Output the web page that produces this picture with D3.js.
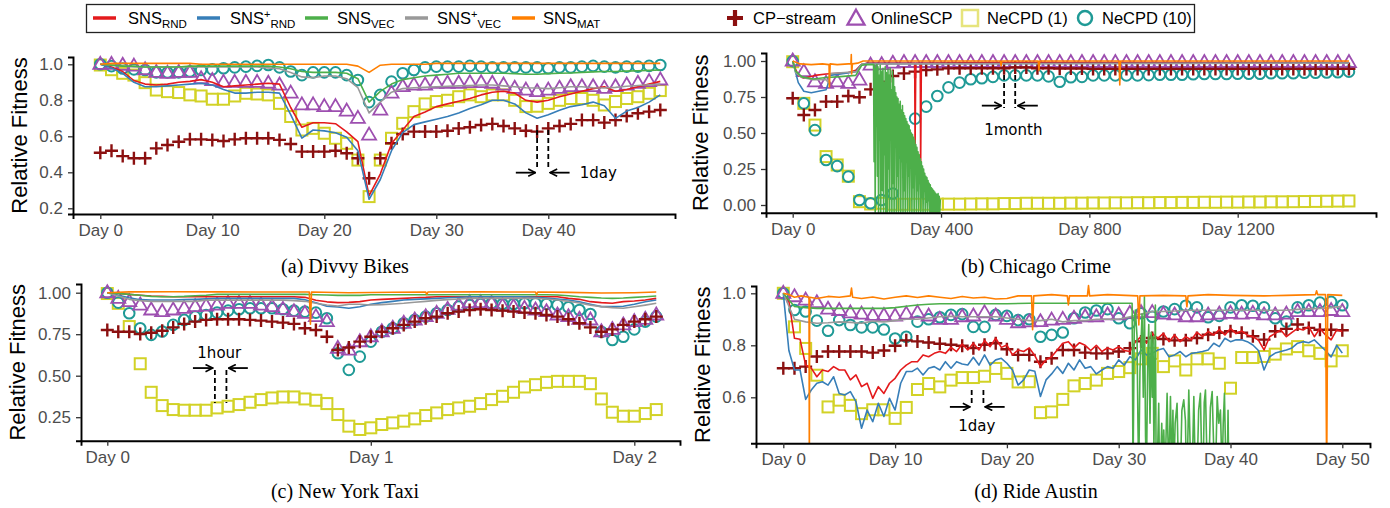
<!DOCTYPE html>
<html lang="en">
<head>
<meta charset="utf-8">
<style>
  body { margin: 0; background: #fff; }
  svg { display: block; }
</style>
</head>
<body>
<script src="https://cdn.jsdelivr.net/npm/d3@7"></script>
<script>

// ---------- (a) Divvy Bikes : daily values, day 0..50 ----------
var divvyDays = d3.range(0, 51);
var divvyRnd = [1.00,0.985,0.96,0.91,0.89,0.885,0.89,0.90,0.905,0.915,
  0.90,0.875,0.88,0.885,0.89,0.895,0.89,0.76,0.65,0.675,
  0.675,0.67,0.625,0.57,0.27,0.39,0.56,0.635,0.71,0.735,
  0.765,0.78,0.795,0.81,0.83,0.845,0.85,0.84,0.80,0.79,
  0.80,0.82,0.835,0.85,0.865,0.875,0.85,0.86,0.875,0.89,0.905];
var divvyRndPlus = [1.00,0.98,0.95,0.90,0.875,0.875,0.88,0.885,0.89,0.895,
  0.885,0.86,0.84,0.84,0.845,0.845,0.84,0.72,0.59,0.635,
  0.63,0.62,0.595,0.52,0.25,0.36,0.52,0.62,0.665,0.68,
  0.695,0.71,0.73,0.755,0.775,0.80,0.80,0.78,0.73,0.70,
  0.72,0.745,0.765,0.775,0.79,0.77,0.70,0.74,0.76,0.79,0.83];
var divvyVec = [1.00,0.995,0.99,0.99,0.985,0.985,0.985,0.985,0.99,0.99,
  0.99,0.99,0.99,0.99,0.99,0.99,0.985,0.975,0.96,0.955,
  0.955,0.955,0.95,0.92,0.79,0.85,0.89,0.915,0.925,0.935,
  0.94,0.945,0.95,0.95,0.95,0.95,0.95,0.948,0.945,0.945,
  0.948,0.95,0.952,0.955,0.958,0.96,0.96,0.962,0.964,0.966,0.968];
var divvyVecPlus = [1.00,0.995,0.99,0.985,0.985,0.985,0.985,0.985,0.985,0.985,
  0.985,0.985,0.985,0.985,0.985,0.98,0.975,0.955,0.93,0.925,
  0.935,0.935,0.92,0.87,0.73,0.79,0.845,0.865,0.87,0.872,
  0.875,0.878,0.88,0.882,0.885,0.885,0.88,0.875,0.87,0.868,
  0.865,0.87,0.875,0.875,0.87,0.868,0.872,0.878,0.882,0.886,0.89];
var divvyMat = [1.00,1.005,1.005,1.005,1.005,1.005,1.005,1.005,1.005,1.0,
  1.0,1.0,1.0,1.0,1.0,1.0,1.0,1.0,1.0,1.0,
  1.0,1.0,1.0,0.99,0.955,0.995,1.0,1.0,1.0,1.0,
  1.005,1.005,1.005,1.005,1.005,1.005,1.005,1.005,1.005,1.005,
  1.005,1.005,1.005,1.005,1.005,1.005,1.005,1.005,1.005,1.005,1.005];
var divvyCp = [0.509,0.52,0.49,0.478,0.478,0.533,0.552,0.57,0.583,0.583,
  0.58,0.574,0.583,0.589,0.589,0.589,0.58,0.557,0.515,0.515,
  0.515,0.52,0.506,0.478,0.367,0.478,0.561,0.613,0.626,0.626,
  0.626,0.631,0.644,0.65,0.663,0.669,0.657,0.644,0.631,0.626,
  0.644,0.657,0.669,0.69,0.69,0.676,0.69,0.713,0.728,0.737,0.746];
var divvyOnline = [1.0,1.0,0.995,0.99,0.97,0.955,0.95,0.955,0.955,0.92,
  0.91,0.90,0.90,0.90,0.90,0.895,0.885,0.84,0.775,0.775,
  0.765,0.765,0.74,0.70,0.607,0.746,0.84,0.876,0.885,0.885,
  0.895,0.895,0.895,0.898,0.898,0.895,0.885,0.867,0.857,0.848,
  0.857,0.867,0.876,0.876,0.876,0.867,0.876,0.885,0.895,0.904,0.913];
var divvyNe1 = [0.996,0.97,0.95,0.94,0.898,0.857,0.848,0.843,0.83,0.824,
  0.806,0.806,0.824,0.839,0.835,0.83,0.783,0.71,0.635,0.644,
  0.617,0.589,0.561,0.468,0.265,0.468,0.589,0.672,0.737,0.78,
  0.793,0.80,0.82,0.83,0.82,0.83,0.83,0.80,0.765,0.767,
  0.783,0.80,0.81,0.81,0.80,0.774,0.793,0.81,0.82,0.839,0.854];
var divvyNe10 = [1.0,0.99,0.977,0.972,0.968,0.955,0.955,0.955,0.96,0.968,
  0.972,0.978,0.983,0.987,0.991,0.996,0.983,0.96,0.94,0.955,
  0.955,0.955,0.94,0.913,0.79,0.83,0.904,0.95,0.968,0.983,
  0.987,0.987,0.987,0.991,0.987,0.983,0.983,0.983,0.983,0.983,
  0.978,0.983,0.983,0.987,0.991,0.987,0.983,0.987,0.987,0.991,0.996];

// ---------- (b) Chicago Crime : lines as [day, value], markers every 30 days ----------
var chicagoRnd = [[0,1.0],[5,0.96],[15,0.9],[30,0.88],[60,0.9],[90,0.91],[120,0.915],[150,0.92],
  [170,0.935],[185,0.975],[200,0.985],[329,0.985],[330,0.40],[332,0.985],[344,0.985],[345,0.25],
  [347,0.985],[600,0.99],[1500,0.99]];
var chicagoRndPlus = [[0,1.0],[5,0.95],[15,0.85],[30,0.79],[50,0.78],[70,0.79],[90,0.80],[96,0.845],
  [100,0.90],[130,0.91],[170,0.925],[185,0.975],[200,0.982],[1500,0.985]];
var chicagoVecPlus = [[0,1.0],[8,0.92],[25,0.885],[55,0.87],[90,0.87],[96,0.85],[100,0.912],[140,0.92],
  [172,0.926],[186,0.978],[300,0.98],[1500,0.985]];
var chicagoVec = [[0,1.0],[8,0.93],[25,0.89],[55,0.875],[90,0.885],[120,0.89],[170,0.90],[186,0.97],
  [200,0.975],[218,0.975],[219.5,0.3],[221,0.97],[222.5,-0.06],[224,0.95],[225.5,0.55],[227,0.975],
  [228.5,0.2],[230,0.96],[231.5,-0.06],[233,0.9],[234.5,0.45],[236,0.97],[237.5,-0.06],[239,0.7],
  [240.5,0.93],[242,0.1],[243.5,0.95],[245,-0.06],[246.5,0.85],[248,0.35],[249.5,0.96],[251,-0.06],
  [252.5,0.92],[254,0.6],[255.5,-0.06],[257,0.94],[258.5,0.25],[260,0.9],[261.5,-0.06],[263,0.95],
  [264.5,0.5],[266,0.8],[267.5,-0.06],[269,0.93],[270.5,0.15],[272,0.88],[273.5,-0.06],[275,0.82],
  [276.5,0.4],[278,0.78],[279.5,-0.06],[281,0.75],[282.5,0.2],[284,0.74],[285.5,-0.06],[287,0.7],
  [288.5,0.45],[290,0.72],[291.5,-0.06],[293,0.66],[294.5,0.3],[296,0.69],[297.5,-0.06],[299,0.64],
  [300.5,0.1],[302,0.62],[303.5,-0.06],[305,0.6],[306.5,0.35],[308,0.58],[309.5,-0.06],[311,0.56],
  [312.5,0.2],[314,0.55],[315.5,-0.06],[317,0.52],[318.5,0.3],[320,0.5],[321.5,-0.06],[323,0.49],
  [324.5,0.12],[326,0.47],[327.5,-0.06],[329,0.45],[330.5,0.25],[332,0.42],[333.5,-0.06],[335,0.4],
  [336.5,0.1],[338,0.37],[339.5,-0.06],[341,0.35],[342.5,0.15],[344,0.32],[345.5,-0.06],[347,0.3],
  [348.5,0.05],[350,0.27],[351.5,-0.06],[353,0.25],[354.5,0.1],[356,0.22],[357.5,-0.06],[359,0.2],
  [360.5,0.02],[362,0.19],[363.5,-0.06],[365,0.17],[366.5,0.03],[368,0.15],[369.5,-0.06],[371,0.14],
  [372.5,-0.06],[374,0.12],[375.5,-0.06],[377,0.11],[378.5,-0.06],[380,0.1],[381.5,-0.06],[383,0.09],
  [384.5,-0.06],[386,0.08],[387.5,-0.06],[389,0.07],[390.5,-0.06],[392,0.08],[393.5,-0.06],[395,0.06],
  [396.5,-0.06],[398,0.04]];
var chicagoMat = [[0,1.0],[10,0.99],[20,0.98],[50,0.975],[80,0.98],[98,0.975],[99,0.82],[101,0.98],
  [120,0.975],[150,0.98],[157,0.98],[158,1.045],[159,0.91],[161,0.98],[175,0.985],[190,1.0],[560,1.0],
  [562,0.965],[564,1.0],[662,1.0],[664,0.935],[666,1.0],[880,1.0],[882,0.833],[884,1.0],[1500,1.0]];
var chicagoDays = d3.range(0, 1501, 30);
var chicagoCp = [0.741,0.625,0.66,0.718,0.718,0.757,0.748,0.803,0.856,0.896,
  0.914,0.926,0.937,0.942,0.949,0.95,0.95,0.95,0.95,0.95,
  0.955,0.955,0.95,0.95,0.948,0.948,0.948,0.945,0.945,0.945,
  0.945,0.945,0.945,0.945,0.945,0.945,0.945,0.945,0.945,0.945,
  0.945,0.945,0.945,0.945,0.945,0.945,0.945,0.945,0.945,0.945,0.945];
var chicagoOnline = [1.0,0.926,0.856,0.845,0.856,0.845,0.868,0.972,0.975,0.985,
  0.99,0.99,0.99,0.99,0.99,0.99,0.99,0.99,0.99,0.99,
  0.99,0.99,0.99,0.99,0.99,0.99,0.99,0.99,0.99,0.99,
  0.99,0.99,0.99,0.99,0.99,0.99,0.99,0.99,0.99,0.99,
  0.99,0.99,0.99,0.99,0.99,0.99,0.99,0.99,0.99,0.99,0.99];
var chicagoNe1 = [0.995,0.706,0.555,0.336,0.278,0.20,0.023,0.007,0.012,0.005,
  0.005,0.005,0.005,0.006,0.006,0.006,0.007,0.008,0.008,0.01,
  0.01,0.012,0.012,0.012,0.012,0.013,0.013,0.014,0.014,0.015,
  0.015,0.016,0.016,0.017,0.017,0.018,0.018,0.019,0.019,0.02,
  0.02,0.021,0.021,0.022,0.022,0.023,0.024,0.025,0.026,0.027,0.028];
var chicagoNe10 = [0.999,0.706,0.52,0.313,0.27,0.197,0.035,0.012,0.035,0.08,
  0.35,0.60,0.683,0.757,0.817,0.85,0.873,0.88,0.89,0.90,
  0.90,0.90,0.90,0.893,0.856,0.887,0.89,0.90,0.90,0.90,
  0.90,0.90,0.902,0.905,0.905,0.905,0.908,0.91,0.91,0.91,
  0.912,0.912,0.912,0.915,0.915,0.915,0.918,0.918,0.92,0.922,0.926];

// ---------- (c) New York Taxi : hourly values, hour 0..50 ----------
var taxiHours = d3.range(0, 51);
var taxiRnd = [1.0,0.995,0.99,0.985,0.98,0.978,0.976,0.976,0.976,0.976,
  0.976,0.976,0.976,0.976,0.976,0.976,0.976,0.976,0.972,0.955,
  0.945,0.94,0.942,0.946,0.956,0.96,0.963,0.966,0.97,0.972,
  0.976,0.976,0.976,0.976,0.976,0.976,0.976,0.976,0.976,0.976,
  0.976,0.976,0.966,0.96,0.946,0.94,0.936,0.946,0.95,0.956,0.966];
var taxiRndPlus = [1.0,0.985,0.97,0.958,0.956,0.956,0.956,0.958,0.96,0.963,
  0.966,0.966,0.966,0.966,0.966,0.966,0.966,0.966,0.958,0.94,
  0.918,0.914,0.906,0.915,0.93,0.94,0.948,0.956,0.96,0.963,
  0.966,0.97,0.973,0.976,0.976,0.976,0.976,0.976,0.976,0.972,
  0.968,0.962,0.956,0.945,0.93,0.916,0.916,0.918,0.93,0.945,0.956];
var taxiVec = [1.0,0.995,0.99,0.985,0.978,0.976,0.976,0.978,0.982,0.985,
  0.99,0.99,0.99,0.99,0.99,0.99,0.99,0.99,0.99,0.988,
  0.986,0.984,0.984,0.984,0.988,0.988,0.988,0.988,0.988,0.988,
  0.988,0.988,0.988,0.988,0.988,0.988,0.988,0.988,0.988,0.988,
  0.988,0.986,0.982,0.976,0.972,0.968,0.966,0.968,0.972,0.976,0.98];
var taxiVecPlus = [1.0,0.98,0.96,0.952,0.948,0.948,0.948,0.948,0.948,0.955,
  0.955,0.955,0.955,0.955,0.955,0.955,0.955,0.952,0.948,0.936,
  0.926,0.92,0.93,0.93,0.926,0.928,0.932,0.936,0.942,0.948,
  0.954,0.958,0.962,0.966,0.966,0.966,0.966,0.966,0.966,0.966,
  0.962,0.956,0.948,0.938,0.925,0.916,0.91,0.906,0.915,0.925,0.936];
var taxiMat = [[0,1.0],[2,1.005],[6,1.006],[10,1.005],[14,1.004],[18.4,1.004],[18.5,0.81],[18.6,1.004],
  [22,1.0],[26,1.003],[29,1.004],[29.1,0.99],[29.2,1.004],[34,1.005],[39,1.004],[39.1,0.988],[39.2,1.004],
  [42,1.002],[45,0.998],[48,1.0],[50,1.004]];
var taxiCp = [0.775,0.765,0.765,0.751,0.759,0.771,0.791,0.812,0.826,0.836,
  0.84,0.84,0.84,0.836,0.832,0.826,0.82,0.812,0.786,0.775,
  0.735,0.655,0.67,0.705,0.735,0.765,0.786,0.806,0.826,0.846,
  0.856,0.876,0.886,0.896,0.90,0.896,0.892,0.886,0.88,0.876,
  0.866,0.856,0.84,0.816,0.791,0.765,0.779,0.806,0.826,0.84,0.856];
var taxiOnline = [1.0,0.966,0.946,0.926,0.896,0.886,0.896,0.906,0.916,0.92,
  0.926,0.936,0.936,0.936,0.926,0.916,0.90,0.886,0.876,0.856,
  0.826,0.665,0.655,0.705,0.735,0.765,0.786,0.816,0.836,0.856,
  0.876,0.90,0.926,0.94,0.94,0.936,0.92,0.916,0.906,0.896,
  0.886,0.866,0.856,0.84,0.836,0.765,0.779,0.806,0.826,0.84,0.866];
var taxiNe1 = [0.995,0.936,0.796,0.572,0.40,0.32,0.296,0.292,0.292,0.292,
  0.306,0.316,0.326,0.34,0.356,0.366,0.372,0.372,0.36,0.352,
  0.332,0.266,0.196,0.176,0.186,0.206,0.216,0.226,0.24,0.26,
  0.276,0.296,0.306,0.316,0.332,0.356,0.376,0.40,0.432,0.446,
  0.46,0.466,0.466,0.466,0.452,0.36,0.28,0.256,0.256,0.272,0.296];
var taxiNe10 = [1.0,0.94,0.876,0.786,0.746,0.766,0.806,0.836,0.856,0.866,
  0.88,0.892,0.90,0.906,0.906,0.906,0.90,0.892,0.886,0.88,
  0.846,0.635,0.535,0.615,0.705,0.765,0.786,0.816,0.836,0.856,
  0.876,0.896,0.916,0.926,0.932,0.936,0.932,0.932,0.936,0.936,
  0.932,0.926,0.912,0.896,0.872,0.765,0.715,0.735,0.779,0.826,0.856];

// ---------- (d) Ride Austin : red/blue every half day, rest daily ----------
var austinHalfDays = d3.range(0, 50.01, 0.5);
var austinDays = d3.range(0, 51);
var austinRnd = [1.0,0.97,0.827,0.823,0.724,0.712,0.679,0.705,0.699,0.718,
  0.705,0.705,0.667,0.686,0.641,0.654,0.596,0.641,0.615,0.654,
  0.673,0.705,0.724,0.737,0.737,0.763,0.756,0.769,0.776,0.769,
  0.792,0.776,0.805,0.782,0.808,0.782,0.818,0.795,0.827,0.792,
  0.801,0.763,0.782,0.776,0.79,0.76,0.718,0.744,0.756,0.782,
  0.808,0.814,0.79,0.81,0.80,0.78,0.80,0.776,0.79,0.782,
  0.795,0.78,0.776,0.814,0.833,0.808,0.846,0.827,0.846,0.814,
  0.84,0.814,0.833,0.821,0.85,0.833,0.853,0.84,0.86,0.84,
  0.865,0.845,0.855,0.84,0.833,0.82,0.782,0.833,0.846,0.859,
  0.833,0.85,0.865,0.859,0.872,0.833,0.865,0.84,0.821,0.859,0.853];
var austinRndPlus = [1.0,0.78,0.705,0.705,0.592,0.628,0.654,0.66,0.647,0.679,
  0.615,0.609,0.622,0.583,0.481,0.551,0.506,0.577,0.526,0.596,
  0.551,0.654,0.699,0.699,0.712,0.686,0.712,0.718,0.705,0.737,
  0.712,0.737,0.728,0.724,0.754,0.724,0.763,0.724,0.744,0.75,
  0.731,0.705,0.647,0.667,0.705,0.70,0.603,0.667,0.69,0.718,
  0.692,0.731,0.705,0.744,0.712,0.718,0.69,0.705,0.718,0.712,
  0.744,0.724,0.756,0.744,0.782,0.763,0.769,0.782,0.788,0.756,
  0.763,0.776,0.756,0.769,0.772,0.776,0.782,0.808,0.795,0.827,
  0.814,0.821,0.821,0.814,0.801,0.78,0.705,0.756,0.77,0.776,
  0.782,0.79,0.808,0.814,0.81,0.821,0.80,0.78,0.755,0.80,0.77];
var austinVecPlus = [1.0,0.90,0.89,0.885,0.887,0.89,0.888,0.885,0.893,0.89,
  0.895,0.90,0.90,0.905,0.91,0.912,0.91,0.91,0.91,0.91,
  0.905,0.90,0.895,0.895,0.90,0.89,0.895,0.895,0.90,0.90,
  0.90,0.91,0.92,0.93,0.93,0.932,0.935,0.935,0.935,0.935,
  0.935,0.935,0.935,0.935,0.935,0.935,0.938,0.94,0.942,0.945,0.95];
var austinVec = [[0,1.0],[1,0.949],[2,0.945],[3,0.942],[4,0.942],[5,0.942],[6,0.942],[7,0.942],[8,0.942],
  [9,0.942],[10,0.945],[11,0.95],[12,0.955],[13,0.958],[14,0.96],[16,0.96],[18,0.96],[20,0.96],[22,0.962],
  [26,0.962],[31,0.962],[31.2,0.962],[31.28,0.3],[31.4,0.9],[31.49,0.936],[31.64,0.833],[31.72,0.5],
  [31.79,0.3],[31.9,0.7],[32.09,0.92],[32.2,0.6],[32.3,0.987],[32.4,0.45],[32.48,0.3],[32.6,0.75],
  [32.69,0.88],[32.8,0.5],[32.9,0.85],[33.0,0.6],[33.07,0.833],[33.15,0.4],[33.28,0.955],[33.35,0.3],
  [33.43,0.3],[33.58,0.577],[33.65,0.3],[33.73,0.3],[33.85,0.5],[33.95,0.3],[34.03,0.474],[34.15,0.3],
  [34.33,0.615],[34.4,0.45],[34.48,0.3],[34.63,0.603],[34.75,0.3],[34.85,0.55],[34.93,0.3],[35.05,0.5],
  [35.22,0.577],[35.35,0.3],[35.52,0.3],[35.65,0.55],[35.82,0.59],[35.97,0.51],[36.05,0.3],[36.12,0.3],
  [36.27,0.628],[36.4,0.4],[36.57,0.3],[36.72,0.603],[36.85,0.3],[37.01,0.3],[37.15,0.55],[37.31,0.615],
  [37.45,0.3],[37.55,0.3],[37.65,0.58],[37.76,0.628],[37.9,0.35],[38.06,0.3],[38.2,0.56],[38.36,0.622],
  [38.5,0.4],[38.66,0.3],[38.81,0.603],[38.95,0.5],[39.1,0.551],[39.25,0.3],[39.35,0.5],[39.46,0.615],
  [39.6,0.3],[39.7,0.3],[39.78,0.55],[39.85,0.3]];
var austinMat = [[0,1.0],[0.5,0.995],[1,0.985],[1.6,0.99],[2.3,0.985],[2.33,0.3],[2.36,0.985],[3,0.98],
  [4,0.988],[5,0.985],[6,0.99],[6.1,1.02],[6.2,0.985],[7,0.98],[8,0.986],[9,0.978],[10,0.985],[11,0.99],
  [12,0.984],[13,0.99],[14,0.985],[15,0.98],[16,0.988],[17,0.982],[18,0.985],[19,0.978],[20,0.98],[21,0.99],
  [22.2,0.99],[22.3,0.86],[22.4,0.99],[24,0.995],[25.4,0.99],[25.5,0.955],[25.6,0.99],[27.2,0.99],
  [27.3,1.03],[27.4,0.99],[29,0.995],[31.7,0.99],[31.8,0.878],[31.9,0.99],[34,0.992],[36.0,0.99],
  [36.1,0.948],[36.2,0.99],[38,0.995],[40,0.992],[43,0.99],[45,0.992],[47.6,0.995],[47.7,1.01],
  [47.8,0.995],[48.5,0.995],[48.6,0.3],[48.7,0.995],[50,0.992]];
var austinCp = [0.712,0.712,0.718,0.757,0.776,0.776,0.776,0.776,0.772,0.78,
  0.798,0.819,0.815,0.811,0.806,0.802,0.798,0.789,0.802,0.808,
  0.785,0.763,0.763,0.737,0.75,0.782,0.782,0.772,0.769,0.769,
  0.776,0.789,0.815,0.828,0.824,0.819,0.819,0.828,0.841,0.848,
  0.854,0.848,0.835,0.822,0.854,0.863,0.88,0.867,0.86,0.86,0.858];
var austinOnline = [1.0,0.987,0.974,0.964,0.939,0.934,0.925,0.92,0.915,0.915,
  0.913,0.92,0.925,0.913,0.90,0.90,0.91,0.913,0.925,0.913,
  0.90,0.887,0.89,0.891,0.897,0.90,0.904,0.91,0.91,0.917,
  0.917,0.923,0.926,0.926,0.92,0.917,0.91,0.91,0.917,0.92,
  0.923,0.92,0.923,0.917,0.917,0.92,0.93,0.93,0.93,0.934,0.93];
var austinNe1 = [1.0,0.871,0.788,0.685,0.563,0.589,0.569,0.537,0.552,0.552,
  0.519,0.561,0.63,0.653,0.64,0.666,0.676,0.676,0.681,0.711,
  0.692,0.659,0.66,0.541,0.544,0.592,0.644,0.653,0.666,0.692,
  0.699,0.714,0.748,0.769,0.718,0.74,0.705,0.748,0.748,0.731,
  0.635,0.753,0.753,0.757,0.766,0.786,0.795,0.779,0.769,0.74,0.779];
var austinNe10 = [1.0,0.936,0.93,0.895,0.856,0.897,0.878,0.869,0.869,0.861,
  0.826,0.833,0.891,0.90,0.908,0.917,0.92,0.871,0.871,0.917,
  0.913,0.897,0.90,0.833,0.84,0.849,0.904,0.926,0.934,0.939,
  0.904,0.885,0.923,0.91,0.93,0.939,0.952,0.946,0.908,0.913,
  0.946,0.954,0.952,0.946,0.904,0.891,0.946,0.954,0.964,0.967,0.954];

// ---------- styling ----------
var colors = {
  rnd: "#e41a1c", rndPlus: "#377eb8", vec: "#4daf4a", vecPlus: "#999999", mat: "#ff7f00",
  cp: "#8b1010", online: "#9d4fb0", ne1: "#d2d226", ne10: "#1f9a96"
};
var SANS = "'Liberation Sans', Arial, Helvetica, sans-serif";
var SERIF = "'Liberation Serif', 'Times New Roman', serif";
var ANNO = "'DejaVu Sans', Verdana, sans-serif";

var svg = d3.select("body").append("svg")
  .attr("width", 1390)
  .attr("height", 508)
  .style("background", "#fff");

var defs = svg.append("defs");
defs.append("marker")
  .attr("id", "arrow")
  .attr("viewBox", "0 0 10 10")
  .attr("refX", 9).attr("refY", 5)
  .attr("markerWidth", 9).attr("markerHeight", 9)
  .attr("markerUnits", "userSpaceOnUse")
  .attr("orient", "auto")
  .append("path")
  .attr("d", "M1,1 L9,5 L1,9")
  .attr("fill", "none")
  .attr("stroke", "#000")
  .attr("stroke-width", 1.8);

function plusPath(s) { return "M" + (-s) + ",0H" + s + "M0," + (-s) + "V" + s; }
function triPath(w, h) { return "M0," + (-h * 0.62) + "L" + (w / 2) + "," + (h * 0.38) + "L" + (-w / 2) + "," + (h * 0.38) + "Z"; }
function pairUp(xs, ys) { return ys.map(function(v, i) { return [xs[i], v]; }); }

function drawPanel(o) {
  var x = d3.scaleLinear().domain(o.xRef).range(o.xPix);
  x.domain([x.invert(o.left), x.invert(o.right)]).range([o.left, o.right]);
  var y = d3.scaleLinear().domain(o.yRef).range(o.yPix);
  y.domain([y.invert(o.bottom), y.invert(o.top)]).range([o.bottom, o.top]);

  var g = svg.append("g");

  defs.append("clipPath").attr("id", "clip-" + o.id)
    .append("rect")
    .attr("x", o.left).attr("y", o.top - 8)
    .attr("width", o.right - o.left).attr("height", o.bottom - o.top + 8);

  var plot = g.append("g").attr("clip-path", "url(#clip-" + o.id + ")");

  // markers (baselines)
  plot.append("g").selectAll("rect")
    .data(pairUp(o.mx, o.ne1)).enter().append("rect")
    .attr("x", function(d) { return x(d[0]) - 5.5; })
    .attr("y", function(d) { return y(d[1]) - 5.5; })
    .attr("width", 11).attr("height", 11)
    .attr("fill", "none").attr("stroke", colors.ne1).attr("stroke-width", 2);

  plot.append("g").selectAll("circle")
    .data(pairUp(o.mx, o.ne10)).enter().append("circle")
    .attr("cx", function(d) { return x(d[0]); })
    .attr("cy", function(d) { return y(d[1]); })
    .attr("r", 5.3)
    .attr("fill", "none").attr("stroke", colors.ne10).attr("stroke-width", 2);

  plot.append("g").selectAll("path")
    .data(pairUp(o.mx, o.online)).enter().append("path")
    .attr("d", triPath(14, 12))
    .attr("transform", function(d) { return "translate(" + x(d[0]) + "," + y(d[1]) + ")"; })
    .attr("fill", "none").attr("stroke", colors.online).attr("stroke-width", 1.8);

  plot.append("g").selectAll("path")
    .data(pairUp(o.mx, o.cp)).enter().append("path")
    .attr("d", plusPath(6.5))
    .attr("transform", function(d) { return "translate(" + x(d[0]) + "," + y(d[1]) + ")"; })
    .attr("fill", "none").attr("stroke", colors.cp).attr("stroke-width", 2.4);

  // SNS lines
  var line = d3.line().x(function(d) { return x(d[0]); }).y(function(d) { return y(d[1]); });
  [["rnd", o.rnd], ["rndPlus", o.rndPlus], ["vecPlus", o.vecPlus], ["vec", o.vec], ["mat", o.mat]]
    .forEach(function(s) {
      plot.append("path")
        .datum(s[1])
        .attr("d", line)
        .attr("fill", "none")
        .attr("stroke", colors[s[0]])
        .attr("stroke-width", 1.6)
        .attr("stroke-linejoin", "round");
    });

  // axes
  var gx = g.append("g")
    .attr("transform", "translate(0," + o.bottom + ")")
    .call(d3.axisBottom(x).tickValues(o.xTicks).tickFormat(o.xFmt).tickSizeOuter(0).tickSize(5).tickPadding(5));
  var gy = g.append("g")
    .attr("transform", "translate(" + o.left + ",0)")
    .call(d3.axisLeft(y).tickValues(o.yTicks).tickFormat(d3.format(o.yFmt)).tickSizeOuter(0).tickSize(5).tickPadding(5));
  [gx, gy].forEach(function(a) {
    a.select(".domain").attr("stroke", "#000").attr("stroke-width", 1.9);
    a.selectAll(".tick line").attr("stroke", "#333").attr("stroke-width", 1.3);
    a.selectAll(".tick text").attr("fill", "#4d4d4d").style("font-family", SANS).style("font-size", "17px");
  });

  g.append("text")
    .attr("transform", "translate(" + o.labelX + "," + ((o.top + o.bottom) / 2) + ") rotate(-90)")
    .attr("text-anchor", "middle")
    .style("font-family", SANS).style("font-size", "22px")
    .text("Relative Fitness");

  g.append("text")
    .attr("x", o.titleX).attr("y", o.titleY)
    .attr("text-anchor", "middle")
    .style("font-family", SERIF).style("font-size", "20px")
    .text(o.title);

  // interval annotation
  var a = o.anno;
  a.dash.forEach(function(dx) {
    g.append("line")
      .attr("x1", x(dx)).attr("x2", x(dx))
      .attr("y1", y(a.dashV[0])).attr("y2", y(a.dashV[1]))
      .attr("stroke", "#000").attr("stroke-width", 1.8).attr("stroke-dasharray", "5,3");
  });
  [a.leftArrow, a.rightArrow].forEach(function(ar) {
    g.append("line")
      .attr("x1", x(ar[0])).attr("x2", x(ar[1]))
      .attr("y1", y(a.arrowV)).attr("y2", y(a.arrowV))
      .attr("stroke", "#000").attr("stroke-width", 1.8)
      .attr("marker-end", "url(#arrow)");
  });
  g.append("text")
    .attr("x", x(a.textX)).attr("y", y(a.textV))
    .attr("text-anchor", a.anchor)
    .style("font-family", ANNO).style("font-size", "15px")
    .text(a.text);
}

var dayFmt = function(d) { return "Day " + d; };

drawPanel({
  id: "a", left: 73, right: 675, top: 57, bottom: 214,
  xRef: [0, 40], xPix: [100.3, 548.3], yRef: [0.2, 1.0], yPix: [208.3, 64.3],
  xTicks: [0, 10, 20, 30, 40], xFmt: dayFmt, yTicks: [0.2, 0.4, 0.6, 0.8, 1.0], yFmt: ".1f",
  labelX: 27, title: "(a) Divvy Bikes", titleX: 345, titleY: 273,
  rnd: pairUp(divvyDays, divvyRnd), rndPlus: pairUp(divvyDays, divvyRndPlus),
  vec: pairUp(divvyDays, divvyVec), vecPlus: pairUp(divvyDays, divvyVecPlus), mat: pairUp(divvyDays, divvyMat),
  mx: divvyDays, cp: divvyCp, online: divvyOnline, ne1: divvyNe1, ne10: divvyNe10,
  anno: { dash: [39, 40], dashV: [0.635, 0.43], arrowV: 0.398, leftArrow: [37.1, 38.85], rightArrow: [41.9, 40.15],
          text: "1day", textX: 42.8, textV: 0.37, anchor: "start" }
});

drawPanel({
  id: "b", left: 766, right: 1376, top: 53, bottom: 212.7,
  xRef: [0, 1200], xPix: [792.7, 1237.7], yRef: [0, 1], yPix: [205, 61],
  xTicks: [0, 400, 800, 1200], xFmt: dayFmt, yTicks: [0, 0.25, 0.5, 0.75, 1.0], yFmt: ".2f",
  labelX: 708, title: "(b) Chicago Crime", titleX: 1036, titleY: 273,
  rnd: chicagoRnd, rndPlus: chicagoRndPlus, vec: chicagoVec, vecPlus: chicagoVecPlus, mat: chicagoMat,
  mx: chicagoDays, cp: chicagoCp, online: chicagoOnline, ne1: chicagoNe1, ne10: chicagoNe10,
  anno: { dash: [570, 600], dashV: [0.903, 0.674], arrowV: 0.69, leftArrow: [510, 563], rightArrow: [661, 607],
          text: "1month", textX: 595, textV: 0.486, anchor: "middle" }
});

drawPanel({
  id: "c", left: 81, right: 680, top: 284, bottom: 440.7,
  xRef: [0, 48], xPix: [107.3, 634.3], yRef: [0.25, 1.0], yPix: [417.2, 292.7],
  xTicks: [0, 24, 48], xFmt: function(h) { return "Day " + (h / 24); }, yTicks: [0.25, 0.5, 0.75, 1.0], yFmt: ".2f",
  labelX: 25, title: "(c) New York Taxi", titleX: 345, titleY: 498,
  rnd: pairUp(taxiHours, taxiRnd), rndPlus: pairUp(taxiHours, taxiRndPlus),
  vec: pairUp(taxiHours, taxiVec), vecPlus: pairUp(taxiHours, taxiVecPlus), mat: taxiMat,
  mx: taxiHours, cp: taxiCp, online: taxiOnline, ne1: taxiNe1, ne10: taxiNe10,
  anno: { dash: [9.8, 10.85], dashV: [0.534, 0.335], arrowV: 0.546, leftArrow: [7.8, 9.6], rightArrow: [12.8, 11.05],
          text: "1hour", textX: 10.2, textV: 0.607, anchor: "middle" }
});

drawPanel({
  id: "d", left: 756, right: 1370, top: 286, bottom: 443.3,
  xRef: [0, 50], xPix: [783.3, 1342.3], yRef: [0.6, 1.0], yPix: [397.3, 293.3],
  xTicks: [0, 10, 20, 30, 40, 50], xFmt: dayFmt, yTicks: [0.6, 0.8, 1.0], yFmt: ".1f",
  labelX: 710, title: "(d) Ride Austin", titleX: 1036, titleY: 498,
  rnd: pairUp(austinHalfDays, austinRnd), rndPlus: pairUp(austinHalfDays, austinRndPlus),
  vec: austinVec, vecPlus: pairUp(austinDays, austinVecPlus), mat: austinMat,
  mx: austinDays, cp: austinCp, online: austinOnline, ne1: austinNe1, ne10: austinNe10,
  anno: { dash: [16.85, 17.9], dashV: [0.628, 0.578], arrowV: 0.563, leftArrow: [14.9, 16.7], rightArrow: [19.8, 18.05],
          text: "1day", textX: 17.3, textV: 0.47, anchor: "middle" }
});

// ---------- legend ----------
var legend = svg.append("g");
legend.append("rect")
  .attr("x", 86.5).attr("y", 4.5).attr("width", 1108).attr("height", 28)
  .attr("fill", "#fff").attr("stroke", "#222").attr("stroke-width", 1.3);

var lineKeys = [
  { key: "rnd", sx: 93, tx: 128, sup: false, sub: "RND" },
  { key: "rndPlus", sx: 197, tx: 230, sup: true, sub: "RND" },
  { key: "vec", sx: 305, tx: 337, sup: false, sub: "VEC" },
  { key: "vecPlus", sx: 405, tx: 437, sup: true, sub: "VEC" },
  { key: "mat", sx: 512, tx: 543, sup: false, sub: "MAT" }
];
lineKeys.forEach(function(k) {
  legend.append("line")
    .attr("x1", k.sx).attr("x2", k.sx + 23).attr("y1", 18).attr("y2", 18)
    .attr("stroke", colors[k.key]).attr("stroke-width", 3.5);
  var t = legend.append("text").attr("x", k.tx).attr("y", 24)
    .style("font-family", SANS).style("font-size", "16.5px");
  t.append("tspan").text("SNS");
  if (k.sup) {
    t.append("tspan").attr("dy", -6).style("font-size", "11px").text("+");
    t.append("tspan").attr("dy", 10).style("font-size", "11.5px").text(k.sub);
  } else {
    t.append("tspan").attr("dy", 4).style("font-size", "11.5px").text(k.sub);
  }
});

legend.append("path").attr("d", plusPath(8)).attr("transform", "translate(735,18)")
  .attr("stroke", colors.cp).attr("stroke-width", 4.2).attr("fill", "none");
legend.append("path").attr("d", triPath(17, 15)).attr("transform", "translate(856,19)")
  .attr("stroke", colors.online).attr("stroke-width", 2.3).attr("fill", "none");
legend.append("rect").attr("x", 962).attr("y", 10).attr("width", 16).attr("height", 16)
  .attr("stroke", "#e6e47c").attr("stroke-width", 2.5).attr("fill", "none");
legend.append("circle").attr("cx", 1085).attr("cy", 18).attr("r", 7)
  .attr("stroke", colors.ne10).attr("stroke-width", 2.5).attr("fill", "none");

[["CP\u2212stream", 753], ["OnlineSCP", 871], ["NeCPD (1)", 987], ["NeCPD (10)", 1102]].forEach(function(d) {
  legend.append("text").attr("x", d[1]).attr("y", 24)
    .style("font-family", SANS).style("font-size", "16.5px")
    .text(d[0]);
});

</script>
</body>
</html>
